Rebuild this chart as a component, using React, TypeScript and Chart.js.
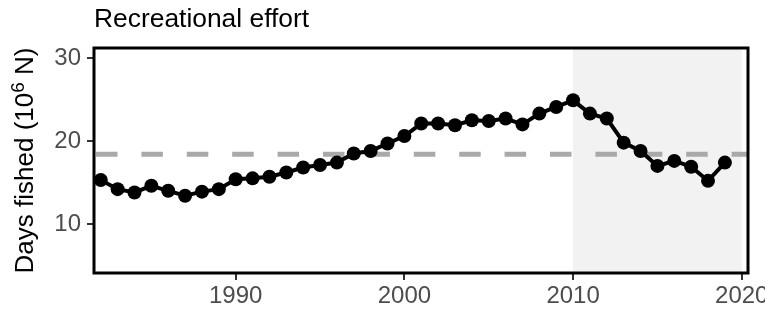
import React, { useEffect, useRef } from 'react';
import { Chart, registerables } from 'chart.js';

Chart.register(...registerables);

// ---- data ----
const years = [
  1982, 1983, 1984, 1985, 1986, 1987, 1988, 1989, 1990, 1991,
  1992, 1993, 1994, 1995, 1996, 1997, 1998, 1999, 2000, 2001,
  2002, 2003, 2004, 2005, 2006, 2007, 2008, 2009, 2010, 2011,
  2012, 2013, 2014, 2015, 2016, 2017, 2018, 2019,
];
const effort = [
  15.3, 14.2, 13.8, 14.6, 14.0, 13.4, 13.9, 14.2, 15.4, 15.5,
  15.7, 16.2, 16.8, 17.1, 17.4, 18.5, 18.8, 19.7, 20.6, 22.1,
  22.1, 21.9, 22.5, 22.4, 22.7, 22.0, 23.3, 24.1, 24.9, 23.3,
  22.7, 19.8, 18.8, 17.0, 17.6, 16.9, 15.2, 17.4,
];
const referenceMean = 18.4;
const shadeStart = 2010;
const shadeEnd = 2020;
const xTicks = [1990, 2000, 2010, 2020];
const yTicks = [10, 20, 30];
const chartTitle = 'Recreational effort';
const yTitleMain = 'Days fished (10';
const yTitleSup = '6';
const yTitleEnd = ' N)';

const FONT = '"Liberation Sans", Arial, Helvetica, sans-serif';

const decorPlugin = {
  id: 'decor',
  beforeDatasetsDraw(chart: any) {
    const { ctx, chartArea, scales } = chart;
    const xs = scales.x;
    const ys = scales.y;
    ctx.save();
    // shaded projection region
    const x0 = xs.getPixelForValue(shadeStart);
    const x1 = xs.getPixelForValue(shadeEnd);
    ctx.fillStyle = '#f2f2f2';
    ctx.fillRect(x0, chartArea.top, x1 - x0, chartArea.bottom - chartArea.top);
    // dashed mean line
    const yM = ys.getPixelForValue(referenceMean);
    ctx.strokeStyle = '#a9a9a9';
    ctx.lineWidth = 5;
    ctx.lineCap = 'butt';
    ctx.setLineDash([21.5, 23.9]);
    ctx.lineDashOffset = 43.4;
    ctx.beginPath();
    ctx.moveTo(chartArea.left, yM);
    ctx.lineTo(chartArea.right, yM);
    ctx.stroke();
    ctx.restore();
  },
  afterDraw(chart: any) {
    const { ctx, chartArea } = chart;
    ctx.save();
    // panel border
    ctx.strokeStyle = '#000000';
    ctx.lineWidth = 3;
    ctx.setLineDash([]);
    ctx.strokeRect(
      chartArea.left,
      chartArea.top,
      chartArea.right - chartArea.left,
      chartArea.bottom - chartArea.top
    );
    // title
    ctx.fillStyle = '#000000';
    ctx.font = `26.4px ${FONT}`;
    ctx.textAlign = 'left';
    ctx.textBaseline = 'alphabetic';
    ctx.fillText(chartTitle, 94, 27);
    // y axis title with superscript
    const mainFont = `26px ${FONT}`;
    const supFont = `19px ${FONT}`;
    ctx.font = mainFont;
    const w1 = ctx.measureText(yTitleMain).width;
    const w3 = ctx.measureText(yTitleEnd).width;
    ctx.font = supFont;
    const w2 = ctx.measureText(yTitleSup).width;
    const total = w1 + w2 + w3;
    const cy = (chartArea.top + chartArea.bottom) / 2;
    ctx.translate(33, cy);
    ctx.rotate(-Math.PI / 2);
    let x = -total / 2;
    ctx.font = mainFont;
    ctx.fillText(yTitleMain, x, 0);
    x += w1;
    ctx.font = supFont;
    ctx.fillText(yTitleSup, x, -9);
    x += w2;
    ctx.font = mainFont;
    ctx.fillText(yTitleEnd, x, 0);
    ctx.restore();
  },
};

export default function App() {
  const ref = useRef<HTMLCanvasElement | null>(null);

  useEffect(() => {
    if (!ref.current) return;
    const chart = new Chart(ref.current, {
      type: 'line',
      data: {
        datasets: [
          {
            data: years.map((yr, i) => ({ x: yr, y: effort[i] })),
            borderColor: '#000000',
            backgroundColor: '#000000',
            borderWidth: 4,
            pointRadius: 7,
            pointBackgroundColor: '#000000',
            pointBorderWidth: 0,
            tension: 0,
            clip: false as any,
          },
        ],
      },
      options: {
        animation: false,
        responsive: false,
        devicePixelRatio: 1,
        layout: { padding: { left: 0, right: 17, top: 48, bottom: 0 } },
        plugins: {
          legend: { display: false },
          tooltip: { enabled: false },
          title: { display: false },
        },
        scales: {
          x: {
            type: 'linear',
            min: 1981.6,
            max: 2020.37,
            afterBuildTicks: (s: any) => {
              s.ticks = xTicks.map((v) => ({ value: v }));
            },
            afterFit: (s: any) => {
              s.height = 37;
              s.paddingLeft = 0;
              s.paddingRight = 0;
            },
            ticks: {
              callback: (v: any) => String(v),
              font: { family: FONT, size: 24 },
              color: '#4d4d4d',
              padding: 2,
              maxRotation: 0,
              autoSkip: false,
            },
            grid: {
              drawOnChartArea: false,
              drawTicks: true,
              tickLength: 7,
              color: '#333333',
              lineWidth: 2,
            },
            border: { display: false },
          },
          y: {
            type: 'linear',
            min: 4.1,
            max: 31.2,
            afterBuildTicks: (s: any) => {
              s.ticks = yTicks.map((v) => ({ value: v }));
            },
            afterFit: (s: any) => {
              s.width = 94;
              s.paddingTop = 0;
              s.paddingBottom = 0;
            },
            ticks: {
              callback: (v: any) => String(v),
              font: { family: FONT, size: 24 },
              color: '#4d4d4d',
              padding: 6,
              autoSkip: false,
            },
            grid: {
              drawOnChartArea: false,
              drawTicks: true,
              tickLength: 7,
              color: '#333333',
              lineWidth: 2,
            },
            border: { display: false },
          },
        },
      },
      plugins: [decorPlugin],
    });
    return () => chart.destroy();
  }, []);

  return (
    <div style={{ position: 'absolute', left: 0, top: 0, width: 765, height: 310, background: '#ffffff' }}>
      <canvas ref={ref} width={765} height={310} style={{ display: 'block' }} />
    </div>
  );
}
